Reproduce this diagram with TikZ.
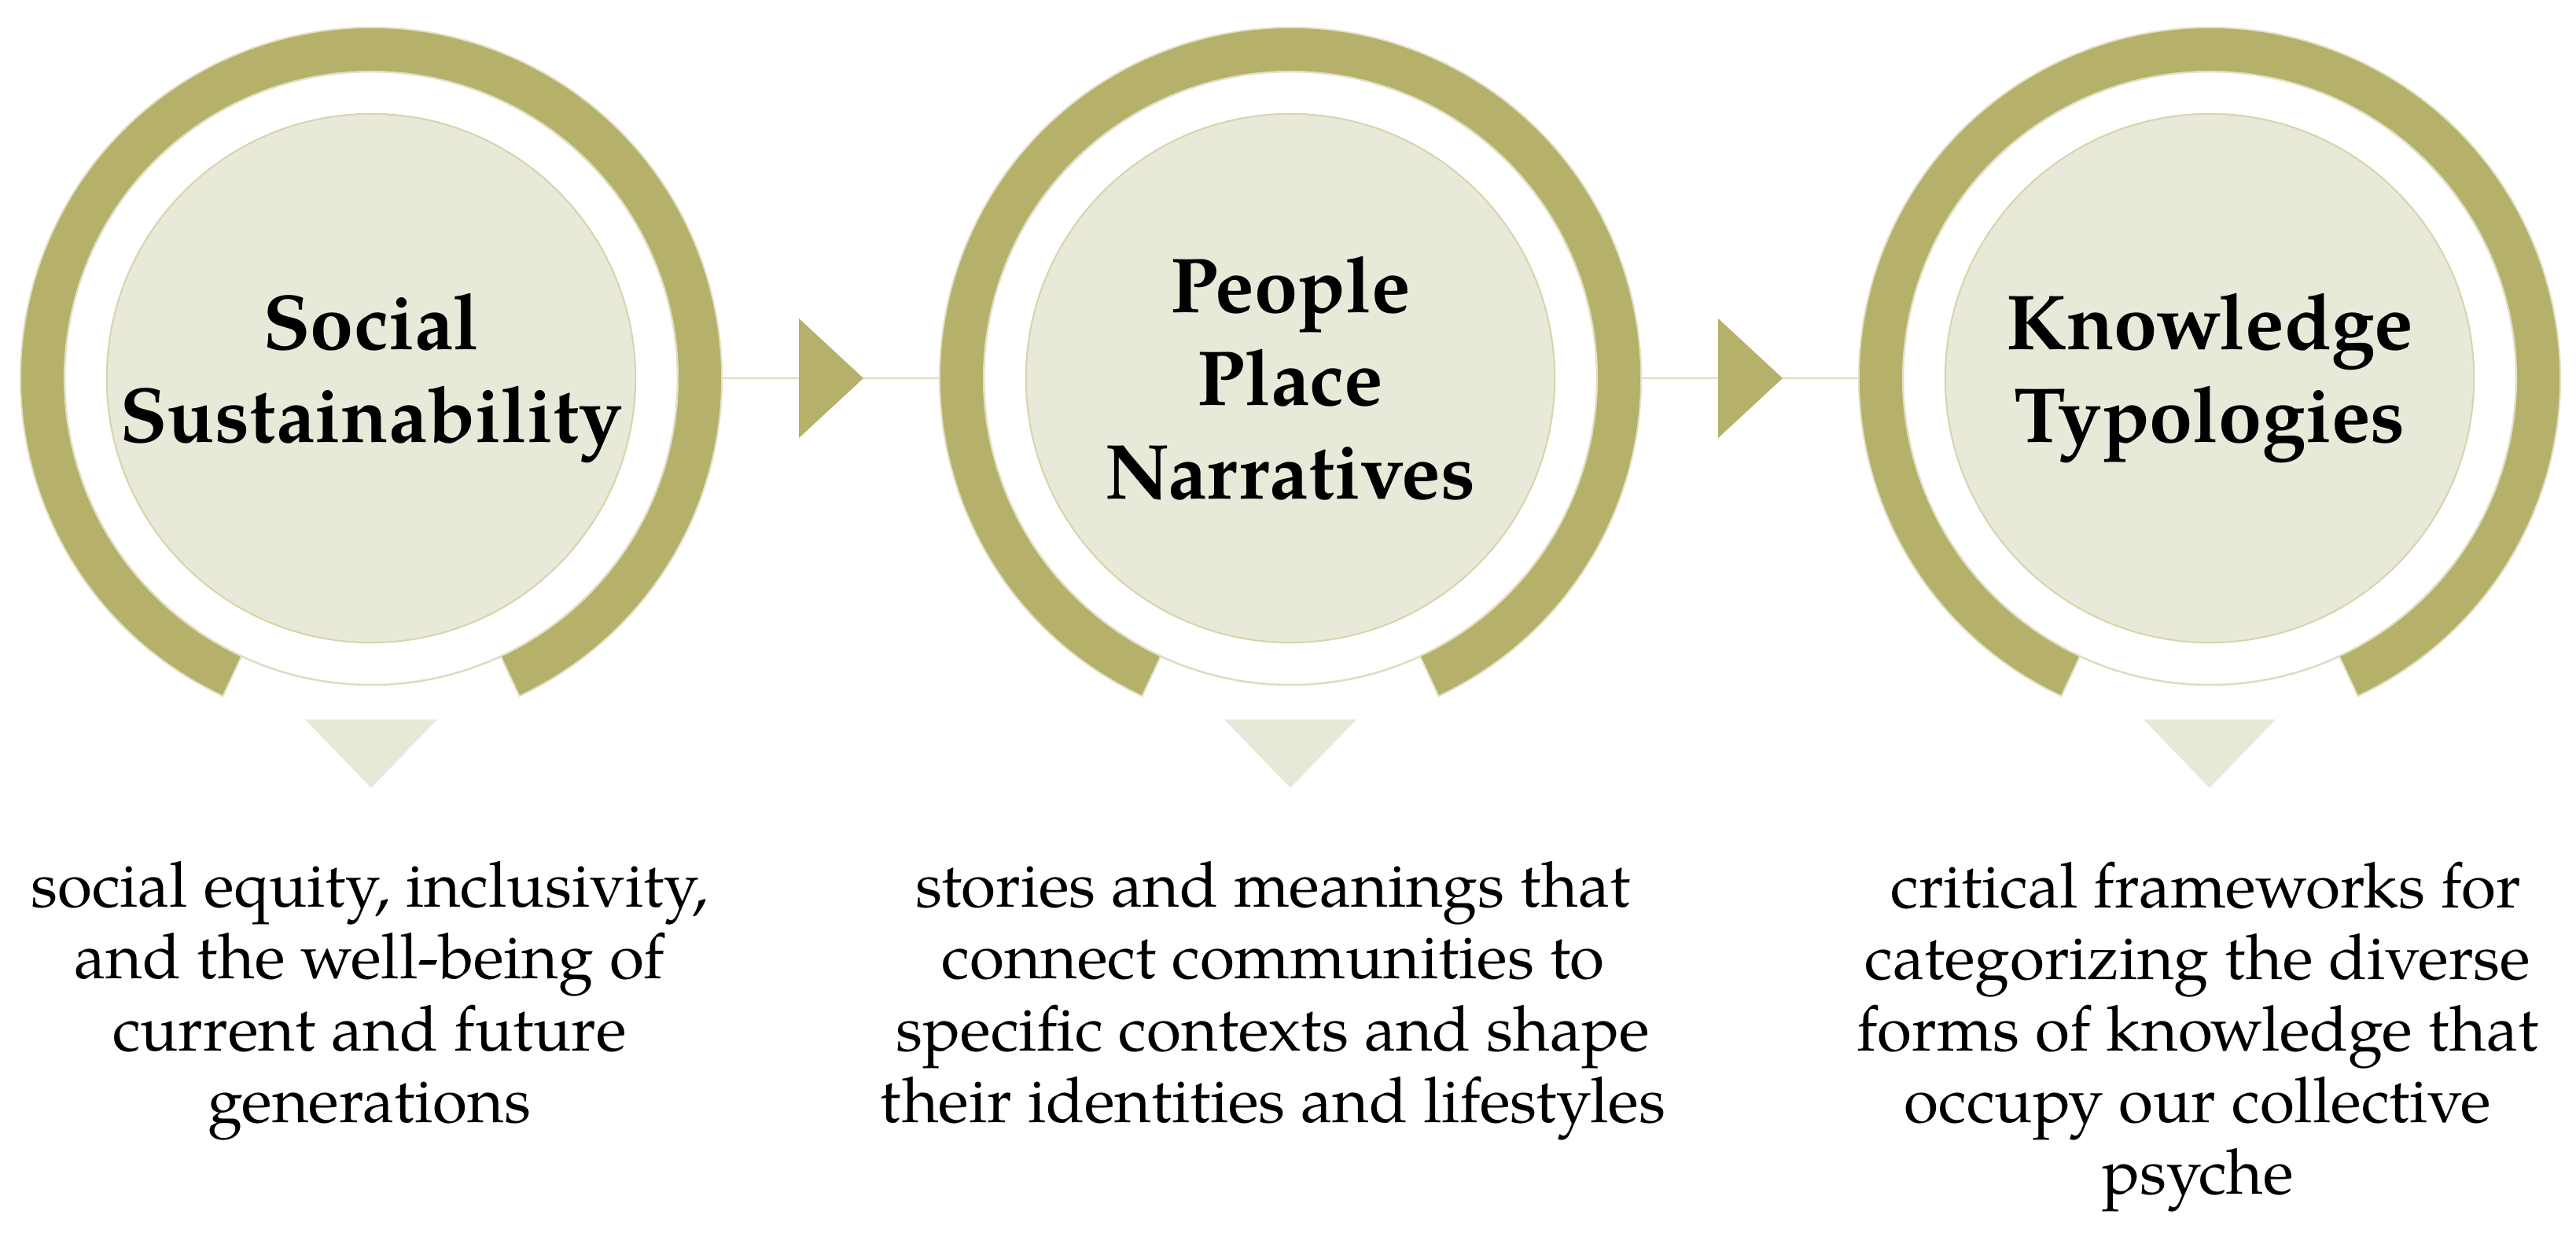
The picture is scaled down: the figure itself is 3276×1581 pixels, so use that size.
\documentclass[tikz,border=0pt]{standalone}
\usepackage{fontspec}
\setmainfont{TeX Gyre Pagella}
\usetikzlibrary{calc}
\definecolor{ringol}{RGB}{181,176,106}
\definecolor{ringedge}{RGB}{226,224,196}
\definecolor{discfill}{RGB}{233,233,217}
\definecolor{discedge}{RGB}{214,212,172}
\definecolor{tricream}{RGB}{232,232,216}
\definecolor{linkline}{RGB}{222,220,192}
\begin{document}
\begin{tikzpicture}[x=0.01cm,y=0.01cm,
  ringbox/.style={circle, minimum size=8.92cm, inner sep=0pt, outer sep=0pt},
  disc/.style={circle, minimum size=6.72cm, inner sep=0pt, fill=discfill, draw=discedge, line width=0.02cm},
  guide/.style={draw=linkline, line width=0.025cm},
  ringshape/.style={fill=ringol, draw=ringedge, line width=0.02cm},
  link/.style={draw=linkline, line width=0.025cm},
  arrowtri/.style={fill=ringol},
  downtri/.style={fill=tricream},
  title/.style={font=\fontsize{28.2}{33.6}\selectfont\bfseries, align=center, inner sep=0pt},
  desc/.style={font=\fontsize{22.8}{25.9}\selectfont, align=center, inner sep=0pt, anchor=north}]
\fill[white] (0,0) rectangle (3276,1581);
\useasboundingbox (0,0) rectangle (3276,1581);

\foreach \i/\cx in {1/472,2/1641,3/2810}{
  \node[ringbox] (r\i) at (\cx,1100) {};
  \draw[guide] (r\i.center) circle[radius=390];
  \node[disc] (d\i) at (r\i.center) {};
  \fill[ringshape] ($(r\i.center)+(245:446)$) arc[start angle=245,end angle=-65,radius=446]
     -- ($(r\i.center)+(-65:390)$) arc[start angle=-65,end angle=245,radius=390] -- cycle;
  \fill[downtri] ($(r\i.center)+(-84,-434)$) -- ($(r\i.center)+(84,-434)$) -- ($(r\i.center)+(0,-521)$) -- cycle;
}

\draw[link] (r1.east) -- (r2.west);
\draw[link] (r2.east) -- (r3.west);
\fill[arrowtri] ($(r1.center)+(544,76)$) -- ($(r1.center)+(626,0)$) -- ($(r1.center)+(544,-76)$) -- cycle;
\fill[arrowtri] ($(r2.center)+(544,76)$) -- ($(r2.center)+(626,0)$) -- ($(r2.center)+(544,-76)$) -- cycle;

\node[title] (t1) at (r1.center) {Social\\Sustainability};
\node[title] (t2) at (r2.center) {People\\Place\\Narratives};
\node[title] (t3) at (r3.center) {Knowledge\\Typologies};

\node[desc] (s1) at (470,486) {social equity, inclusivity,\\and the well-being of\\current and future\\generations};
\node[desc] (s2) at (1619,486) {stories and meanings that\\connect communities to\\specific contexts and shape\\their identities and lifestyles};
\node[desc] (s3) at (2795,486) {\hspace*{0.25em}critical frameworks for\\categorizing the diverse\\forms of knowledge that\\occupy our collective\\psyche};
\end{tikzpicture}
\end{document}
